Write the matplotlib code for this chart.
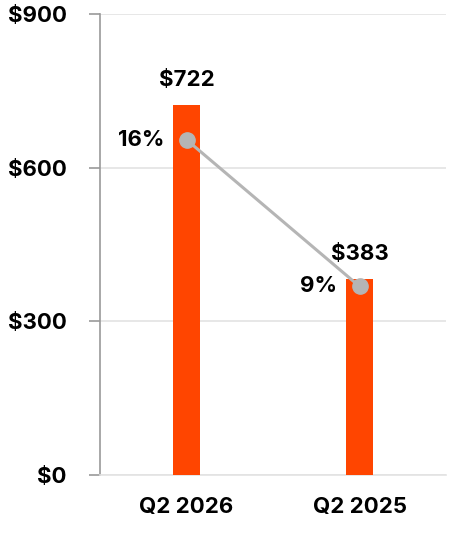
import numpy as np
import matplotlib.pyplot as plt

plt.rcParams['font.family'] = ['Inter', 'DejaVu Sans']

# data
quarters = ["Q2 2026", "Q2 2025"]
revenue = [722, 383]
margin_pct = [16, 9]
y_ticks = [0, 300, 600, 900]

bar_color = "#FF4500"
line_color = "#B5B5B5"

fig = plt.figure(figsize=(4.6, 5.36), dpi=100)
ax = fig.add_axes([0.2174, 0.1138, 0.7522, 0.8601])

x = np.arange(len(quarters))
ax.bar(x, revenue, width=0.16, color=bar_color, zorder=3)

ax.set_xlim(-0.5, 1.5)
ax.set_ylim(0, 900)
ax.set_yticks(y_ticks)
ax.set_yticklabels([f"${v}" for v in y_ticks], fontsize=16, fontweight='bold')
ax.set_xticks(x)
ax.set_xticklabels(quarters, fontsize=16, fontweight='bold')

ax.grid(axis='y', color='#E3E3E3', linewidth=1.2, zorder=0)
ax.tick_params(axis='y', length=8, width=1.2, color='#999999', pad=16)
ax.tick_params(axis='x', length=0, pad=16)
for s in ['top', 'right']:
    ax.spines[s].set_visible(False)
ax.spines['left'].set_color('#999999')
ax.spines['left'].set_linewidth(1.2)
ax.spines['bottom'].set_color('#E3E3E3')
ax.spines['bottom'].set_linewidth(1.2)

for xi, v in zip(x, revenue):
    ax.annotate(f"${v}", (xi, v), xytext=(0, 11), textcoords='offset points',
                ha='center', va='bottom', fontsize=16, fontweight='bold')

# margin line on a second scale
ax2 = ax.twinx()
ax2.set_ylim(0, 22)
ax2.axis('off')
ax2.plot(x, margin_pct, color=line_color, linewidth=2.2, marker='o',
         markersize=11, zorder=4)
for xi, p in zip(x, margin_pct):
    ax2.annotate(f"{p}%", (xi, p), xytext=(-16, 0), textcoords='offset points',
                 ha='right', va='center', fontsize=16, fontweight='bold')

fig.savefig("out.png", dpi=100)
